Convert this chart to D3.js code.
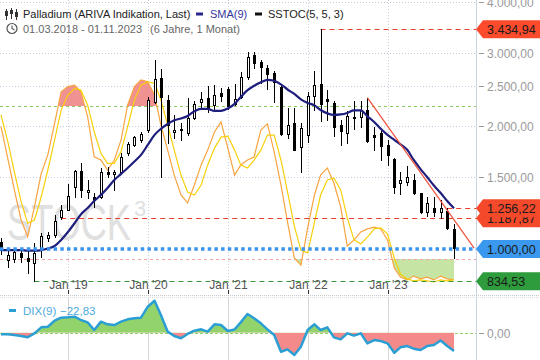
<!DOCTYPE html>
<html><head><meta charset="utf-8">
<script src="https://cdn.jsdelivr.net/npm/d3@7"></script>
<style>body{margin:0;background:#fff}svg{display:block;font-family:"Liberation Sans",Arial,sans-serif}</style>
</head><body><svg id="c" width="540" height="360"></svg>
<script>
// ---------- DATA (monthly, Mar 2018 .. Nov 2023) ----------
const startMonth = new Date(2018, 2, 1);
const endMonth = new Date(2023, 10, 1);
const open  = [1040,940,944,979,951,926,994,1063,1082,1199, 1248,1419,1549,1374,1340,1340,1544,1520,1544,1712, 1795,1842,1950,2280,2617,2307,1927,1960,1915,2089, 2282,2338,2238,2395,2452,2260,2353,2625,2970,2862, 2761,2684,2489,1902,2030,1768,1896,2366,2526,2320, 2266,2007,1915,2095,2102,2180,1896,1914,1793,1658, 1447,1458,1473,1367,1234,1261,1229,1238,1119];
const high  = [1062,994,1004,1004,1005,1034,1094,1100,1210,1280, 1440,1558,1623,1473,1367,1576,1585,1558,1713,1826, 1881,1923,2352,2891,2750,2373,2122,2027,2331,2300, 2418,2490,2517,2470,2485,2530,2705,3020,3020,2891, 2810,2710,2520,2205,2205,2027,2420,2710,3434.94,2444, 2294,2062,2170,2294,2294,2338,1987,1940,1843,1664, 1544,1596,1520,1370,1342,1342,1317,1256,1148];
const low   = [975,904,931,931,874,834.53,956,1045,1072,1186, 1245,1342,1340,1331,1268,1331,1500,1393,1535,1691, 1780,1826,1932,2275,1500,1813,1860,1843,1896,2080, 2200,2160,2200,2290,2200,2240,2330,2600,2760,2540, 2460,2280,1895,1860,1740,1544,1826,2180,2050,2060, 1890,1796,1810,1962,1987,1825,1744,1647,1600,1367, 1360,1431,1360,1225,1206,1206,1193,1120,952];
const close = [994,967,985,954,933,980,1076,1082,1172,1248, 1347,1549,1393,1392,1317,1544,1520,1544,1680,1802, 1871,1905,2307,2590,2353,2007,1950,1948,2089,2251, 2318,2210,2380,2366,2230,2322,2625,2941,2840,2785, 2670,2560,1902,2007,1744,1970,2366,2517,2251,2294, 1987,1935,2114,2083,2180,1830,1874,1786,1694,1420, 1473,1500,1367,1234,1292,1234,1256,1127,1007];
const sma9  = [994,994,994,994,991,991,994,1003,1017,1052, 1100,1157,1214,1259,1309,1355,1409,1473,1524,1576, 1634,1696,1793,1897,1963,2017,2059,2080,2110,2166, 2195,2195,2171,2171,2199,2258,2347,2438,2499,2549, 2585,2571,2519,2448,2387,2316,2270,2239,2182,2141, 2122,2128,2146,2176,2176,2105,2040,1963,1897,1845, 1800,1745,1648,1566,1498,1428,1369,1309,1256.22];
const stochK = [71.9,59.5,47.1,35.3,28.7,40.5,53.6,60.8,73.2,85.6, 87.6,88.2,85.6,75.8,60.1,58.8,54.9,58.8,66.7,80.4, 87.6,90.2,89.5,84.3,72.5,62.7,52.9,45.1,42.0,49.0, 56.9,62.7,69.8,73.7,63.5,52.9,56.9,58.8,60.0,70.6, 73.0,62.0,49.0,34.5,20.4,17.6,32.2,45.1,52.9,55.7, 49.8,40.4,25.1,27.5,30.6,31.8,32.5,31.8,27.5,16.5, 12.9,11.8,13.3,12.2,12.9,11.8,13.3,12.2,11.8];
const stochD = [76.5,66.0,54.2,42.5,34.0,35.3,44.4,54.9,66.7,78.4, 84.3,86.9,86.3,80.4,69.9,61.4,57.5,57.5,62.1,71.9, 82.4,88.2,89.5,88.9,82.4,72.5,62.7,52.9,46.3,45.1, 49.0,56.9,63.5,67.8,68.2,62.7,56.9,55.7,58.8,62.7, 68.6,68.6,58.8,46.3,32.9,23.5,22.4,34.5,45.1,51.0, 51.8,47.1,36.1,27.5,25.9,28.6,31.8,32.2,29.8,20.4, 14.1,12.2,11.4,11.8,11.4,11.0,11.8,11.4,11.8];
const dix9  = [-2.0,-2.0,-2.9,-4.1,-5.7,-0.8,6.7,7.5,15.0,18.8, 19.2,20.0,15.9,12.9,3.4,13.8,10.5,9.6,13.8,16.7, 18.0,18.8,32.5,40.0,22.1,1.3,-4.1,-7.0,-1.6,2.5, 4.2,1.3,10.5,9.6,2.1,4.2,12.9,23.4,18.0,11.7, 4.2,-2.9,-23.8,-20.8,-27.9,-17.5,3.4,10.5,3.4,6.7, -5.8,-8.3,-0.8,-3.7,-0.8,-13.3,-9.2,-10.4,-13.3,-25.0, -18.3,-16.7,-20.0,-21.6,-16.7,-15.4,-9.8,-16.7,-22.83];
const yTickValues = [1500, 2000, 2500, 3000, 4000];
const xTickYears = [2019, 2020, 2021, 2022, 2023];
const levelValues = [3434.94, 1187.87, 1256.22, 1000, 834.53];
const levelStarts = [new Date(2022,2,1), new Date(2018,11,1), new Date(2023,9,1), new Date(2018,2,1), new Date(2018,7,1)];
const trendDates = [new Date(2022,9,1), new Date(2024,1,1)];
const trendValues = [2338, 1005];
const stochLevels = [80, 20];

// ---------- SETUP ----------
const months = d3.timeMonth.range(startMonth, d3.timeMonth.offset(endMonth, 1));
const plotR = 476, mainB = 290;
const x = d3.scaleTime().domain([startMonth, endMonth]).range([1, 454]);
const y = d3.scaleLog().domain([1000, 4000]).range([249, 2]);
const ys = d3.scaleLinear().domain([0, 100]).range([310, 55]);
const yd = d3.scaleLinear().domain([-30, 40]).range([356.7, 300.7]);
const loc = d3.formatLocale({decimal: ",", thousands: ".", grouping: [3], currency: ["", ""]});
const fmt = loc.format(",.2f");
const svg = d3.select("#c");
const defs = svg.append("defs");
defs.append("clipPath").attr("id", "main").append("rect").attr("x", 0).attr("y", 0).attr("width", plotR).attr("height", mainB);
defs.append("clipPath").attr("id", "ob").append("rect").attr("x", 0).attr("y", 0).attr("width", plotR).attr("height", ys(80));
defs.append("clipPath").attr("id", "os").append("rect").attr("x", 0).attr("y", ys(20)).attr("width", plotR).attr("height", mainB - ys(20));
defs.append("clipPath").attr("id", "dpos").append("rect").attr("x", 0).attr("y", 290).attr("width", plotR).attr("height", yd(0) - 290);
defs.append("clipPath").attr("id", "dneg").append("rect").attr("x", 0).attr("y", yd(0)).attr("width", plotR).attr("height", 360 - yd(0));

const px = i => x(months[i]);
const janDates = xTickYears.map(yr => new Date(yr, 0, 1));

// ---------- GRID ----------
const g = svg.append("g");
g.selectAll(".hg").data(yTickValues).join("line")
  .attr("x1", 0).attr("x2", plotR).attr("y1", d => Math.round(y(d)) + 0.5).attr("y2", d => Math.round(y(d)) + 0.5)
  .attr("stroke", "#c4cade").attr("stroke-dasharray", "1,2");
g.selectAll(".vg").data(janDates).join("line")
  .attr("x1", d => Math.round(x(d)) + 0.5).attr("x2", d => Math.round(x(d)) + 0.5).attr("y1", 0).attr("y2", mainB)
  .attr("stroke", "#c8d0d8").attr("stroke-dasharray", "1,2");
g.append("line").attr("x1", plotR + 0.5).attr("x2", plotR + 0.5).attr("y1", 0).attr("y2", 360).attr("stroke", "#c9d3e2");

// watermark
svg.append("text").attr("x", 7).attr("y", 240).attr("font-size", 50).attr("fill", "#e0e0e0")
  .attr("textLength", 124).attr("lengthAdjust", "spacingAndGlyphs").text("STOCK");
svg.append("text").attr("x", 134).attr("y", 216).attr("font-size", 22).attr("fill", "#e0e0e0").text("3");

// ---------- STOCHASTIC ----------
const m = svg.append("g").attr("clip-path", "url(#main)");
m.append("path").datum(stochK).attr("clip-path", "url(#ob)")
  .attr("d", d3.area().x((d, i) => px(i)).y0(ys(80)).y1(d => ys(d)))
  .attr("fill", "#f08686").attr("opacity", 0.9);
m.append("path").datum(stochK).attr("clip-path", "url(#os)")
  .attr("d", d3.area().x((d, i) => px(i)).y0(ys(20)).y1(d => ys(d)))
  .attr("fill", "#c6e4a4");
m.append("line").attr("x1", 0).attr("x2", plotR).attr("y1", Math.round(ys(stochLevels[0])) + 0.5).attr("y2", Math.round(ys(stochLevels[0])) + 0.5)
  .attr("stroke", "#8acb5e").attr("stroke-dasharray", "3,3");
m.append("line").attr("x1", 0).attr("x2", plotR).attr("y1", Math.round(ys(stochLevels[1])) + 0.5).attr("y2", Math.round(ys(stochLevels[1])) + 0.5)
  .attr("stroke", "#f2a2a2").attr("stroke-dasharray", "3,3");
m.append("path").datum(stochK).attr("d", d3.line().x((d, i) => px(i)).y(d => ys(d)))
  .attr("fill", "none").attr("stroke", "#f8a440").attr("stroke-width", 1.2);
m.append("path").datum(stochD).attr("d", d3.line().x((d, i) => px(i)).y(d => ys(d)))
  .attr("fill", "none").attr("stroke", "#f6d10a").attr("stroke-width", 1.2);

// ---------- LEVEL LINES ----------
const levelColor = ["#e8402a", "#e8402a", "#e8402a", "#3b95f0", "#3a9a3a"];
levelValues.forEach((v, k) => {
  const yy = Math.round(y(v)) + 0.5;
  if (k === 3) return;
  m.append("line").attr("x1", x(levelStarts[k])).attr("x2", plotR).attr("y1", yy).attr("y2", yy)
    .attr("stroke", levelColor[k]).attr("stroke-dasharray", "5,4");
});

// ---------- CANDLES ----------
const cg = m.append("g");
months.forEach((d, i) => {
  const cx = Math.round(px(i));
  cg.append("line").attr("x1", cx + 0.5).attr("x2", cx + 0.5)
    .attr("y1", Math.round(y(high[i]))).attr("y2", Math.round(y(low[i])) + 1).attr("stroke", "#000");
  const top = Math.round(y(Math.max(open[i], close[i])));
  const bot = Math.round(y(Math.min(open[i], close[i])));
  if (close[i] >= open[i]) {
    cg.append("rect").attr("x", cx - 0.5).attr("y", top + 0.5).attr("width", 2).attr("height", Math.max(1, bot - top))
      .attr("fill", "#fff").attr("stroke", "#000");
  } else {
    cg.append("rect").attr("x", cx - 1).attr("y", top).attr("width", 3).attr("height", Math.max(1, bot - top + 1))
      .attr("fill", "#000");
  }
});

// SMA
m.append("path").datum(sma9).attr("d", d3.line().x((d, i) => px(i)).y(d => y(d)).curve(d3.curveMonotoneX))
  .attr("fill", "none").attr("stroke", "#1e1e7c").attr("stroke-width", 2.2);

// 1000 line (blue dotted)
m.append("line").attr("x1", 0).attr("x2", plotR).attr("y1", y(levelValues[3])).attr("y2", y(levelValues[3]))
  .attr("stroke", "#3b95f0").attr("stroke-width", 3.5).attr("stroke-dasharray", "3.5,3.2");

// trend line
m.append("line").attr("x1", x(trendDates[0])).attr("y1", y(trendValues[0]))
  .attr("x2", x(trendDates[1])).attr("y2", y(trendValues[1]))
  .attr("stroke", "#f0503a").attr("stroke-width", 1.2);

// ---------- RIGHT AXIS ----------
const ax = svg.append("g");
yTickValues.forEach(v => {
  const yy = Math.round(y(v)) + 0.5;
  ax.append("line").attr("x1", 479).attr("x2", 484).attr("y1", yy).attr("y2", yy).attr("stroke", "#999");
  ax.append("text").attr("x", 487).attr("y", yy).attr("dominant-baseline", "central")
    .attr("font-size", 12).attr("fill", "#9a9a9a").text(fmt(v));
});

// tags
const tagFill = ["#fb4a2c", "#f4492b", "#f4492b", "#3a98ee", "#2e9c3c"];
levelValues.forEach((v, k) => {
  const cy = y(v);
  svg.append("path").attr("d", `M476,${cy} L483,${cy - 9} L540,${cy - 9} L540,${cy + 9} L483,${cy + 9} Z`)
    .attr("fill", tagFill[k]);
  svg.append("text").attr("x", 487).attr("y", cy + 0.5).attr("dominant-baseline", "central")
    .attr("font-size", 12.5).attr("fill", "#1a1a1a").text(fmt(v));
});

// ---------- X AXIS ----------
janDates.forEach(d => {
  const cx = Math.round(x(d)) + 0.5;
  svg.append("line").attr("x1", cx).attr("x2", cx).attr("y1", 290).attr("y2", 294).attr("stroke", "#333");
  svg.append("text").attr("x", cx).attr("y", 288.5).attr("text-anchor", "middle")
    .attr("font-size", 12).attr("fill", "#555").text("Jan '" + String(d.getFullYear()).slice(2));
});

// ---------- BOTTOM PANEL ----------
svg.append("line").attr("x1", 0).attr("x2", 540).attr("y1", 295.5).attr("y2", 295.5).attr("stroke", "#c8c8c8").attr("stroke-dasharray", "1,1");
svg.append("line").attr("x1", 0).attr("x2", 540).attr("y1", 297.5).attr("y2", 297.5).attr("stroke", "#dcdcdc").attr("stroke-dasharray", "1,1");
janDates.forEach(d => {
  const cx = Math.round(x(d)) + 0.5;
  svg.append("line").attr("x1", cx).attr("x2", cx).attr("y1", 298).attr("y2", 360).attr("stroke", "#d6d6d6");
});
svg.append("line").attr("x1", 0).attr("x2", plotR).attr("y1", Math.round(yd(0)) + 0.5).attr("y2", Math.round(yd(0)) + 0.5)
  .attr("stroke", "#8fd46a").attr("stroke-dasharray", "3,2");
const dArea = d3.area().x((d, i) => px(i)).y0(yd(0)).y1(d => yd(d));
svg.append("path").datum(dix9).attr("d", dArea).attr("clip-path", "url(#dpos)").attr("fill", "#93d36c");
svg.append("path").datum(dix9).attr("d", dArea).attr("clip-path", "url(#dneg)").attr("fill", "#f48a8a");
svg.append("path").datum(dix9).attr("d", d3.line().x((d, i) => px(i)).y(d => yd(d)))
  .attr("fill", "none").attr("stroke", "#2b9fd4").attr("stroke-width", 2.5).attr("stroke-linejoin", "round");
svg.append("line").attr("x1", 479).attr("x2", 484).attr("y1", Math.round(yd(0)) + 0.5).attr("y2", Math.round(yd(0)) + 0.5).attr("stroke", "#999");
svg.append("text").attr("x", 487).attr("y", yd(0) + 1).attr("dominant-baseline", "central")
  .attr("font-size", 12).attr("fill", "#9a9a9a").text(fmt(0));
svg.append("rect").attr("x", 9).attr("y", 309).attr("width", 7).attr("height", 3).attr("fill", "#2b9fd4");
svg.append("text").attr("x", 23).attr("y", 314.5).attr("font-size", 11.5).attr("fill", "#4fa9dc").text("DIX(9)");
svg.append("text").attr("x", 60).attr("y", 314.5).attr("font-size", 11.5).attr("fill", "#4fa9dc").text(fmt(dix9[dix9.length - 1]));

// ---------- LEGEND ----------
const lg = svg.append("g");
[[6, 9, 20, 11, 16], [11, 8, 19, 10, 14], [16, 9, 20, 12, 17]].forEach(([cx, t, b, bt, bb]) => {
  lg.append("line").attr("x1", cx + 0.5).attr("x2", cx + 0.5).attr("y1", t).attr("y2", b).attr("stroke", "#333");
  lg.append("rect").attr("x", cx - 1).attr("y", bt).attr("width", 3).attr("height", bb - bt).attr("fill", "#333");
});
lg.append("text").attr("x", 23).attr("y", 18).attr("font-size", 11).attr("fill", "#222").text("Palladium (ARIVA Indikation, Last)");
lg.append("rect").attr("x", 196).attr("y", 12.5).attr("width", 7).attr("height", 3).attr("fill", "#28288c");
lg.append("text").attr("x", 210).attr("y", 18).attr("font-size", 11).attr("fill", "#3535a0").text("SMA(9)");
lg.append("rect").attr("x", 255).attr("y", 12.5).attr("width", 7).attr("height", 3).attr("fill", "#111");
lg.append("text").attr("x", 268).attr("y", 18).attr("font-size", 11).attr("fill", "#222").text("SSTOC(5, 5, 3)");
lg.append("circle").attr("cx", 12).attr("cy", 28.5).attr("r", 5).attr("fill", "none").attr("stroke", "#555").attr("stroke-width", 1.2);
lg.append("path").attr("d", "M12,25.5 L12,28.5 L14.5,30").attr("fill", "none").attr("stroke", "#555").attr("stroke-width", 1.1);
lg.append("text").attr("x", 23).attr("y", 32.5).attr("font-size", 11).attr("fill", "#666").text("01.03.2018 - 01.11.2023");
lg.append("text").attr("x", 150).attr("y", 32.5).attr("font-size", 11).attr("fill", "#666").text("(6 Jahre, 1 Monat)");
</script></body></html>
